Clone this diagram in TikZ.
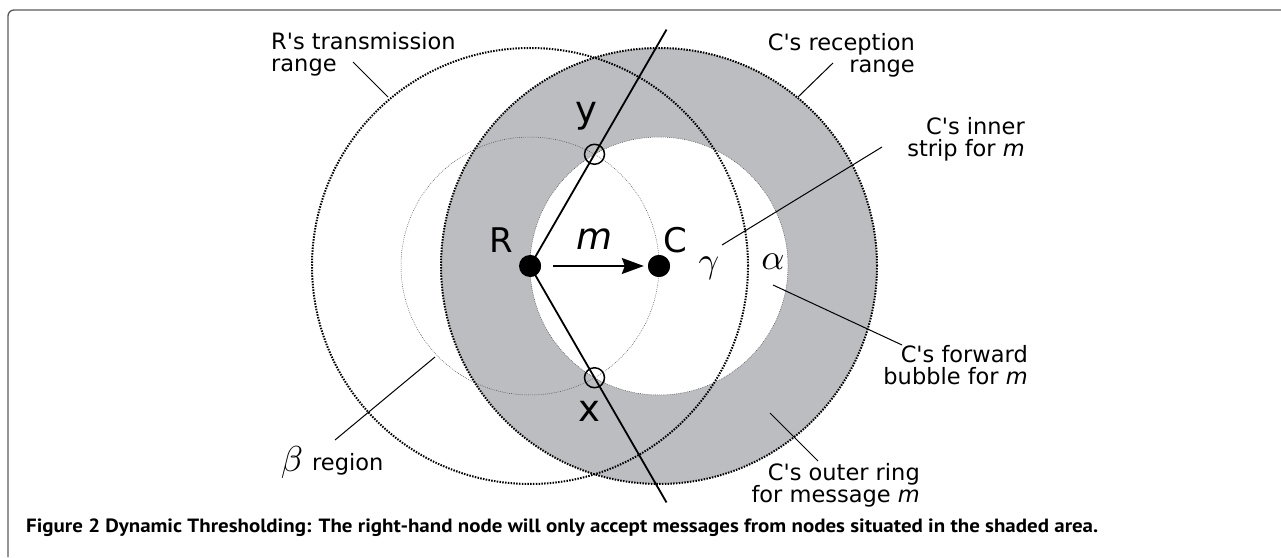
\documentclass[tikz,border=0pt]{standalone}
\usepackage{fontspec}
\setmainfont{DejaVu Sans}[Ligatures=TeXOff]
\newfontfamily\capfont{PT Sans}
\usetikzlibrary{arrows.meta}
\definecolor{ringgrey}{RGB}{188,189,193}
\definecolor{framegrey}{RGB}{90,90,90}
\newcommand{\bigGreek}[1]{\scalebox{3.6}{$#1$}}

\tikzset{>={Stealth[length=22pt,width=16pt,inset=3pt]},
	rangeline/.style={line width=2pt,dash pattern=on 1.5pt off 1.3pt},
	helper/.style={line width=0.5pt,dash pattern=on 0.7pt off 1.2pt,black!75},
	leader/.style={line width=1pt},
	lbl/.style={font=\fontsize{22.5}{22.5}\selectfont,inner sep=0pt},
	biglbl/.style={font=\fontsize{34}{34}\selectfont,inner sep=0pt},
	ptlbl/.style={font=\fontsize{37}{37}\selectfont,inner sep=0pt},
	greeklbl/.style={inner sep=0pt},
	nodedot/.style={circle,fill=black,minimum size=22pt,inner sep=0pt},
	ptring/.style={circle,draw,line width=1.5pt,minimum size=20pt,inner sep=0pt}}

\begin{document}
\begin{tikzpicture}[x=1pt,y=1pt]
		\newcommand{\bigRadius}{218}
		\newcommand{\smallRadius}{129}
		\newcommand{\lineLen}{273}
		
		\useasboundingbox (0,0) rectangle (1281,557);
		\draw[framegrey,line width=1.3pt,rounded corners=6pt] (8,0) -- (8,547) -- (1281,547);	% frame
		
		\node[nodedot] (R) at (530,291) {};
		\node[nodedot] (C) at (659,291) {};
		
		\fill[ringgrey,even odd rule] (C) circle (\bigRadius) (C) circle (\smallRadius);	% outer ring
		\draw[helper] (R) circle (\smallRadius);	% beta circle
		\draw[helper] (C) circle (\smallRadius);	% forward bubble
		\draw[rangeline] (R) circle (\bigRadius);	% R's range
		\draw[rangeline] (C) circle (\bigRadius);	% C's range
		
		% line through R, x and y
		\path (R) ++(60:\lineLen) coordinate (ytop);
		\path (R) ++(-60:\lineLen) coordinate (xbot);
		\draw[line width=1.8pt] (ytop) -- (R.center) -- (xbot);
		\path (R) ++(60:\smallRadius) node[ptring] (ypt) {};
		\path (R) ++(-60:\smallRadius) node[ptring] (xpt) {};
		\node[nodedot] at (R) {};
		\node[nodedot] at (C) {};
		
		\draw[->,line width=1.5pt,shorten <=12pt,shorten >=4pt] (R) -- (C);
		
		\node[biglbl] (Rlabel) at (501,317) {R};
		\node[biglbl] (Clabel) at (675,317) {C};
		\node[ptlbl] (mlabel) at (595,318) {\itshape m};
		\node[ptlbl] (ylabel) at (586,441) {y};
		\node[ptlbl] (xlabel) at (589,146) {x};
		\node[greeklbl] (gamma) at (709,289) {\bigGreek{\gamma}};
		\node[greeklbl] (alpha) at (773,295) {\bigGreek{\alpha}};
		\node[greeklbl] (beta) at (292,95) {\bigGreek{\beta}};
		
		% labels
		\node[lbl,anchor=north west,align=left] (trans) at (271,525) {R's transmission\\range};
		\node[lbl,anchor=north east,align=right] (recep) at (915,524) {C's reception\\range};
		\node[lbl,anchor=north east,align=right] (inner) at (1025,440) {C's inner\\strip for \textit{m}};
		\node[lbl,anchor=north east,align=right] (forward) at (1028,212) {C's forward\\bubble for \textit{m}};
		\node[lbl,anchor=north east,align=right] (outer) at (920,94) {C's outer ring\\for message \textit{m}};
		\node[lbl,anchor=base west] (region) at (312,87) {region};
		
		% leader lines
		\coordinate (transA) at (353,495);   \coordinate (transB) at (388,460);
		\coordinate (recepA) at (833,494);   \coordinate (recepB) at (798,460);
		\coordinate (innerA) at (882,410);   \coordinate (innerB) at (722,312);
		\coordinate (fwdA) at (902,212);     \coordinate (fwdB) at (773,272);
		\coordinate (outerA) at (818,96);    \coordinate (outerB) at (770,144);
		\coordinate (betaA) at (335,117);    \coordinate (betaB) at (435,200);
		\draw[leader] (transA) -- (transB);
		\draw[leader] (recepA) -- (recepB);
		\draw[leader] (innerA) -- (innerB);
		\draw[leader] (fwdA) -- (fwdB);
		\draw[leader] (outerA) -- (outerB);
		\draw[leader] (betaA) -- (betaB);
		
		\node[anchor=base west,inner sep=0pt] (caption) at (26,25) {\resizebox{1072pt}{13.7pt}{\capfont\bfseries Figure 2 Dynamic Thresholding: The right-hand node will only accept messages from nodes situated in the shaded area.}};
\end{tikzpicture}
\end{document}
